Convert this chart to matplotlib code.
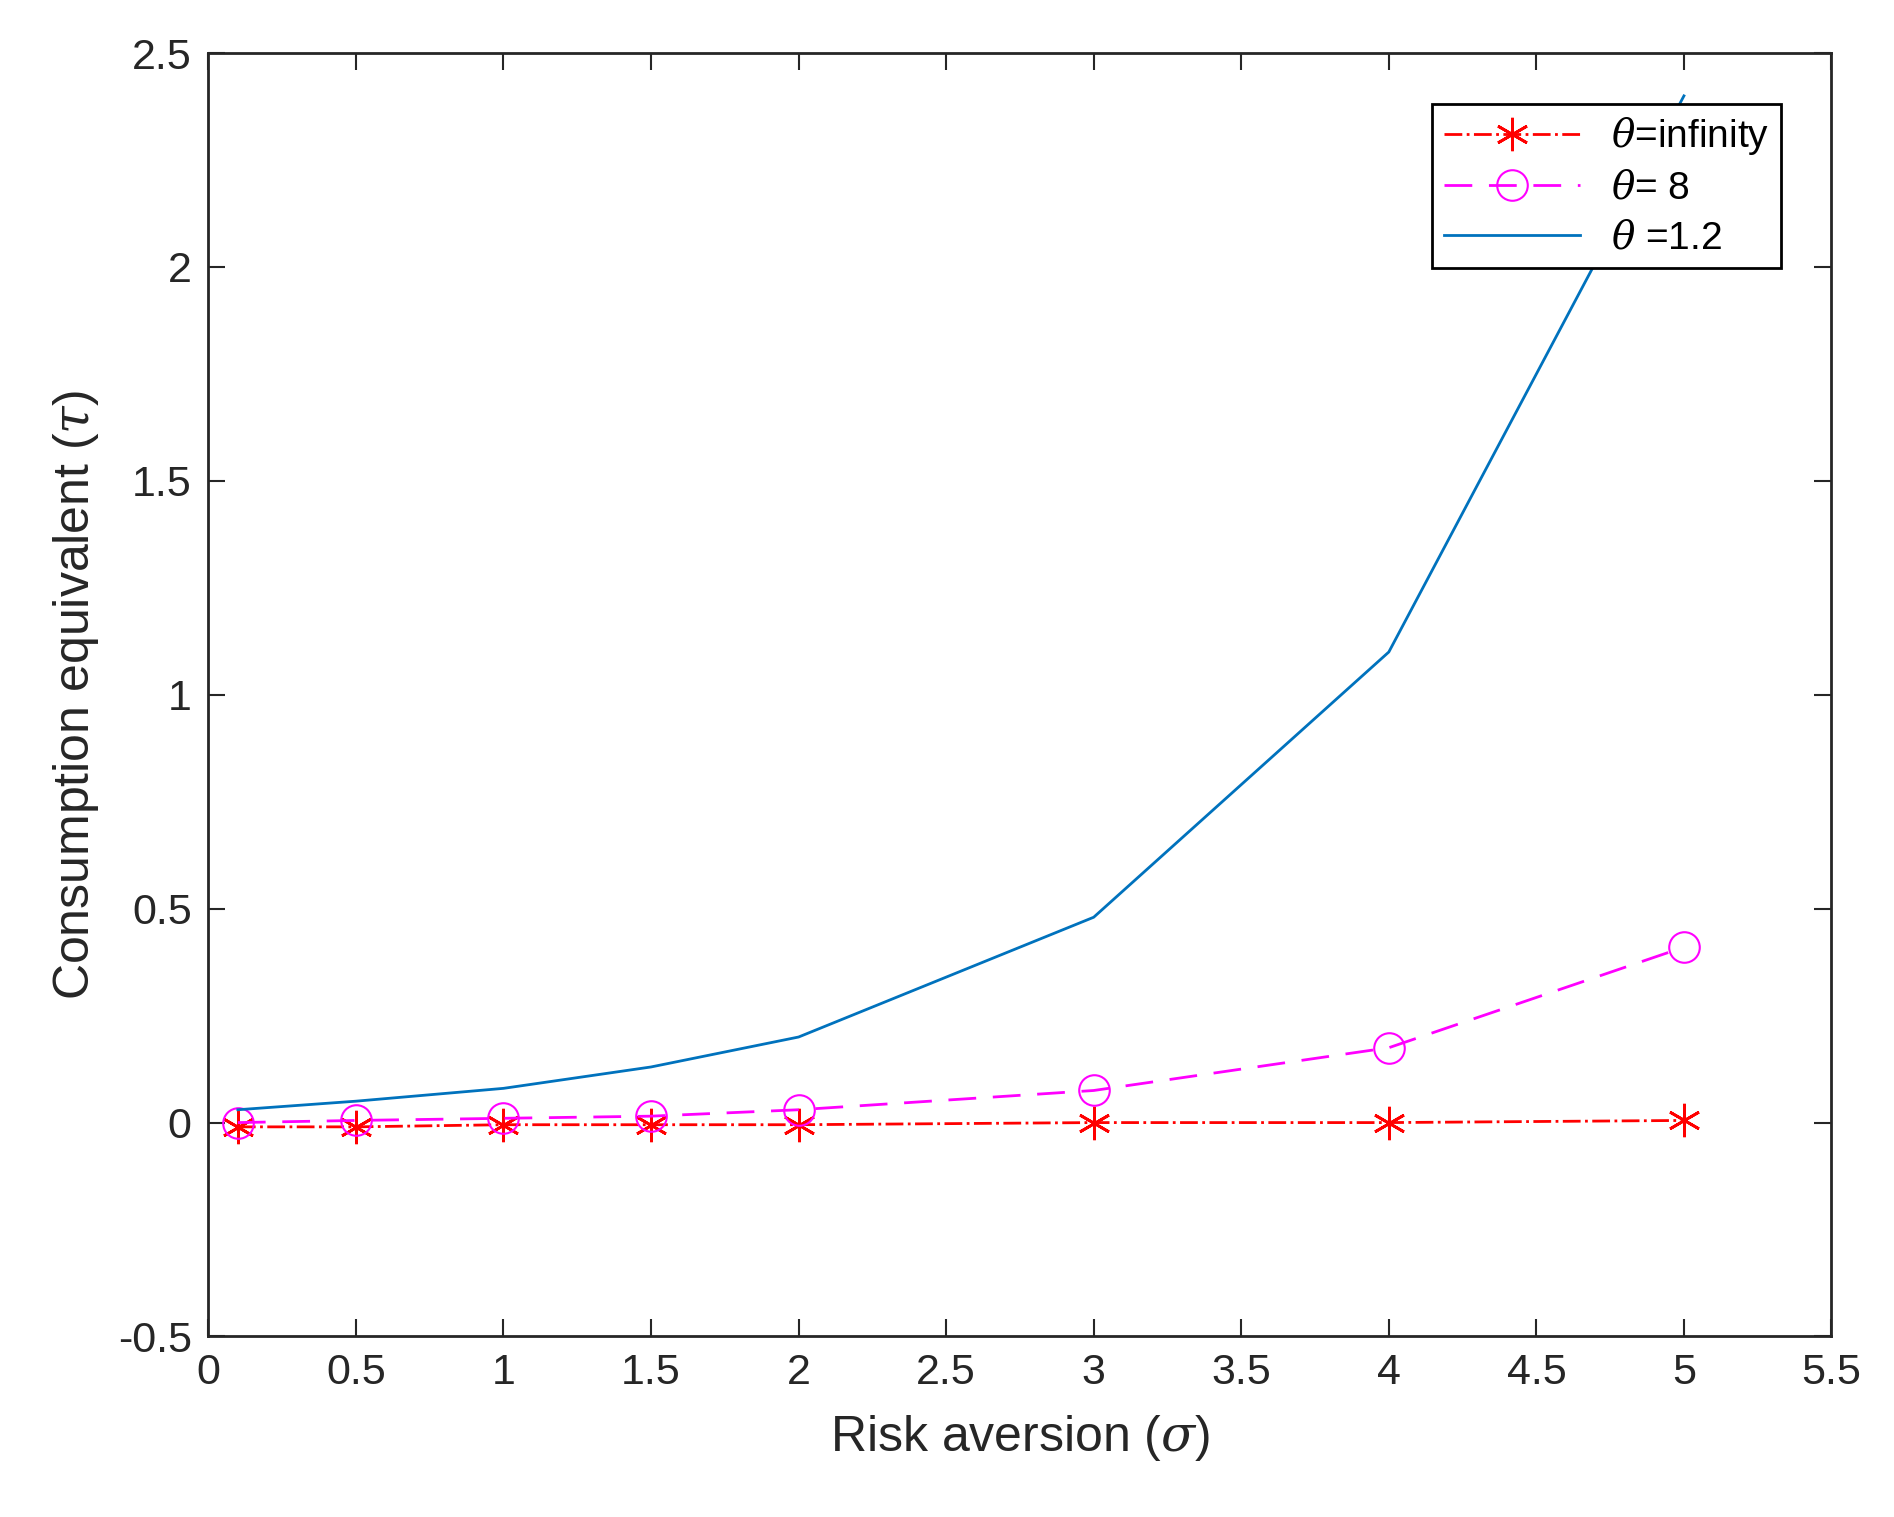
import matplotlib
matplotlib.use("Agg")
import matplotlib.pyplot as plt

sigma = [0.1, 0.5, 1, 1.5, 2, 3, 4, 5]
theta_inf = [-0.01, -0.01, -0.005, -0.005, -0.005, 0.0, 0.0, 0.005]
theta_8 = [0.0, 0.005, 0.01, 0.015, 0.03, 0.075, 0.175, 0.41]
theta_12 = [0.03, 0.05, 0.08, 0.13, 0.2, 0.48, 1.1, 2.4]

plt.rcParams['font.family'] = 'Liberation Sans'
plt.rcParams['mathtext.fontset'] = 'dejavuserif'
fig = plt.figure(figsize=(18.94, 15.17), dpi=100)
ax = fig.add_axes([0.110, 0.119, 0.857, 0.846])
ax.plot(sigma, theta_inf, color='red', linestyle='-.', marker=(6, 2, 0), markersize=24,
        mew=2, lw=2, label=r'$\theta$=infinity')
ax.plot(sigma, theta_8, color='magenta', linestyle=(0, (10, 6)), marker='o', markersize=22,
        mfc='none', mew=1.5, lw=2, label=r'$\theta$= 8')
ax.plot(sigma, theta_12, color='#0072BD', lw=2, label=r'$\theta$ =1.2')
ax.set_xlim(0, 5.5)
ax.set_ylim(-0.5, 2.5)
ax.set_xticks([0, 0.5, 1, 1.5, 2, 2.5, 3, 3.5, 4, 4.5, 5, 5.5])
ax.set_xticklabels(['0', '0.5', '1', '1.5', '2', '2.5', '3', '3.5', '4', '4.5', '5', '5.5'])
ax.set_yticks([-0.5, 0, 0.5, 1, 1.5, 2, 2.5])
ax.set_yticklabels(['-0.5', '0', '0.5', '1', '1.5', '2', '2.5'])
ax.tick_params(labelsize=31, direction='in', length=12, width=1.5, top=True, right=True,
               colors='#262626', pad=12)
for s in ax.spines.values():
    s.set_linewidth(2)
    s.set_color('#262626')
ax.set_xlabel(r'Risk aversion ($\sigma$)', fontsize=36, color='#262626', labelpad=14)
ax.set_ylabel(r'Consumption equivalent ($\tau$)', fontsize=36, color='#262626', labelpad=12)
leg = ax.legend(loc='upper right', fontsize=28, fancybox=False, edgecolor='black',
                framealpha=1, handlelength=3.5, borderaxespad=1.3, borderpad=0.3,
                labelspacing=0.35)
leg.get_frame().set_linewidth(2)
fig.savefig('out.png', dpi=100, facecolor='white')
